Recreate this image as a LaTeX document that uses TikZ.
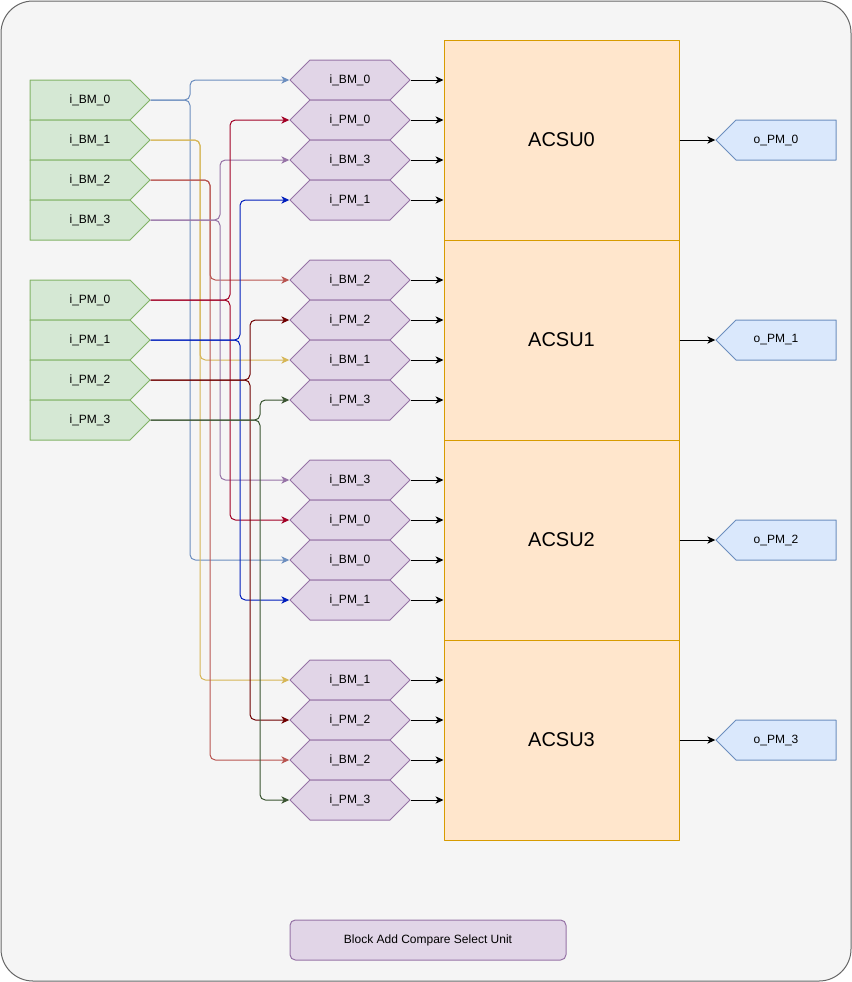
\documentclass[tikz,border=0pt]{standalone}
\usepackage{fontspec}
\setmainfont{Liberation Sans}
\usetikzlibrary{shapes.symbols,arrows.meta}
\definecolor{bgFill}{HTML}{F5F5F5}
\definecolor{bgLine}{HTML}{666666}
\definecolor{inFill}{HTML}{D5E8D4}
\definecolor{inLine}{HTML}{82B366}
\definecolor{hxFill}{HTML}{E1D5E7}
\definecolor{hxLine}{HTML}{9673A6}
\definecolor{acFill}{HTML}{FFE6CC}
\definecolor{acLine}{HTML}{D79B00}
\definecolor{outFill}{HTML}{DAE8FC}
\definecolor{outLine}{HTML}{6C8EBF}
\definecolor{bmA}{HTML}{6C8EBF}
\definecolor{bmB}{HTML}{D6B656}
\definecolor{bmC}{HTML}{B85450}
\definecolor{bmD}{HTML}{9673A6}
\definecolor{pmA}{HTML}{A20025}
\definecolor{pmB}{HTML}{001DBC}
\definecolor{pmC}{HTML}{6F0000}
\definecolor{pmD}{HTML}{3A5431}
\newcommand{\lab}[2]{i\_#1M\_#2}
\begin{document}
\begin{tikzpicture}[x=0.75pt, y=-0.75pt, font=\fontsize{9}{11}\selectfont, line join=round,
	sig/.style={signal, draw, minimum width=90pt, minimum height=30pt, inner sep=0pt, line width=0.75pt},
	inp/.style={sig, signal to=east, fill=inFill, draw=inLine, execute at begin node={\hspace*{15pt}}},
	hexa/.style={sig, signal to=east and west, fill=hxFill, draw=hxLine},
	outp/.style={sig, signal to=west, fill=outFill, draw=outLine, execute at end node={\hspace*{15pt}}},
	unit/.style={draw=acLine, fill=acFill, line width=0.75pt, minimum width=176.25pt, minimum height=150pt, font=\fontsize{15}{18}\selectfont},
	foot/.style={draw=hxLine, fill=hxFill, line width=0.75pt, rounded corners=4pt, minimum width=207pt, minimum height=30pt},
	arr/.style={line width=0.75pt, -{Stealth[length=6pt,width=5.5pt,inset=1.8pt]}},
	wire/.style={arr, rounded corners=4pt}
	]
	\useasboundingbox (0,0) rectangle (852,982);
	\draw[bgLine, fill=bgFill, rounded corners=24pt, line width=0.75pt] (1,1) rectangle (851,981);
	% inputs
	\foreach \s [count=\j from 0] in {B0,B1,B2,B3}
		\node[inp] (i\s) at (80,{100+40*\j}) {\expandafter\lab\s};
	\foreach \s [count=\j from 0] in {P0,P1,P2,P3}
		\node[inp] (i\s) at (80,{300+40*\j}) {\expandafter\lab\s};
	% ACSU blocks and outputs
	\foreach \k in {0,...,3}{
		\node[unit] (u\k) at (561.5,{140+200*\k}) {ACSU\k};
		\node[outp] (o\k) at (786,{140+200*\k}) {o\_PM\_\k};
		\draw[arr] (u\k.east) -- (o\k.west);
	}
	% hexagon inputs of each ACSU
	\foreach \k/\lst in {0/{B0,P0,B3,P1}, 1/{B2,P2,B1,P3}, 2/{B3,P0,B0,P1}, 3/{B1,P2,B2,P3}}{
		\foreach \s [count=\j from 0] in \lst {
			\node[hexa] (h\k\s) at (350,{80+200*\k+40*\j}) {\expandafter\lab\s};
			\draw[arr] (h\k\s.east) -- (h\k\s.east -| u\k.west);
		}
	}
	% wiring
	\foreach \s/\x/\a/\b/\c in {B0/190/0/2/bmA, B1/200/1/3/bmB, B2/210/1/3/bmC, B3/220/0/2/bmD,
		P0/230/0/2/pmA, P1/240/0/2/pmB, P2/250/1/3/pmC, P3/260/1/3/pmD}{
		\draw[wire, \c] (i\s.east) -- (i\s.east -| \x,0) |- (h\a\s.west);
		\draw[wire, \c] (i\s.east) -- (i\s.east -| \x,0) |- (h\b\s.west);
	}
	\node[foot] (title) at (428,940) {Block Add Compare Select Unit};
\end{tikzpicture}
\end{document}
